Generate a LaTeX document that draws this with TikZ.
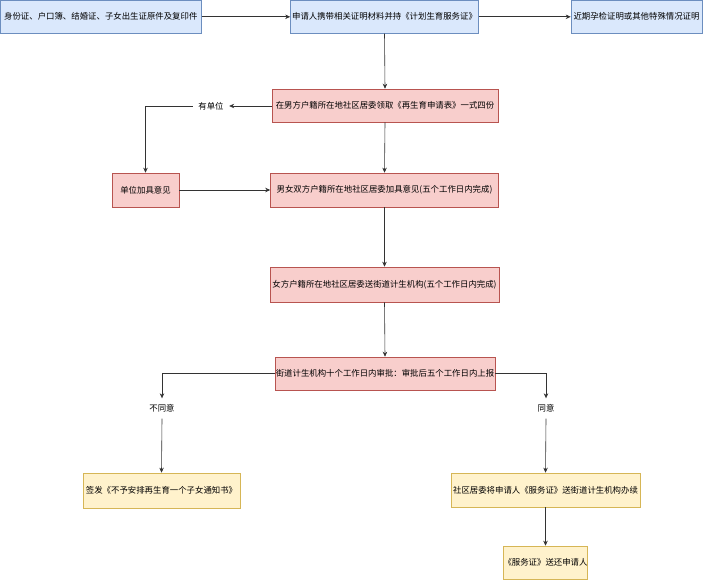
\documentclass[tikz,border=0pt]{standalone}
\usepackage{fontspec}
\newfontfamily\cjk{Noto Sans CJK SC}
\usetikzlibrary{arrows.meta}
\definecolor{bfill}{HTML}{DAE8FC}\definecolor{bdraw}{HTML}{6C8EBF}
\definecolor{rfill}{HTML}{F8CECC}\definecolor{rdraw}{HTML}{B85450}
\definecolor{yfill}{HTML}{FFF2CC}\definecolor{ydraw}{HTML}{D6B656}
\definecolor{lnc}{HTML}{333333}
\tikzset{
  boxbase/.style={rectangle, inner sep=0pt, minimum height=33pt, font=\cjk\fontsize{8.4}{10}\selectfont, line width=0.6pt},
  bluebox/.style={boxbase, fill=bfill, draw=bdraw},
  redbox/.style={boxbase, fill=rfill, draw=rdraw},
  yelbox/.style={boxbase, fill=yfill, draw=ydraw},
  lab/.style={inner sep=0pt, font=\cjk\fontsize{8.4}{10}\selectfont},
  conn/.style={draw=lnc, line width=0.6pt},
  arr/.style={conn, -{Stealth[length=5pt,width=4.5pt]}}
}
\begin{document}
\begin{tikzpicture}[x=1pt,y=-1pt]
\useasboundingbox (0,0) rectangle (703,580);
\node[bluebox, minimum width=201pt] (b1) at (100.8,16.8) {身份证、户口簿、结婚证、子女出生证原件及复印件};
\node[bluebox, minimum width=188pt] (b2) at (384.5,16.8) {申请人携带相关证明材料并持《计划生育服务证》};
\node[bluebox, minimum width=131pt] (b3) at (636.5,16.8) {近期孕检证明或其他特殊情况证明};
\node[redbox, minimum width=226pt] (b4) at (385,105.5) {在男方户籍所在地社区居委领取《再生育申请表》一式四份};
\node[redbox, minimum width=67pt, minimum height=34pt] (b5) at (145.5,190) {单位加具意见};
\node[redbox, minimum width=228pt, minimum height=34pt] (b6) at (384.5,190) {男女双方户籍所在地社区居委加具意见(五个工作日内完成)};
\node[redbox, minimum width=229pt, minimum height=35pt] (b7) at (384.5,284.5) {女方户籍所在地社区居委送街道计生机构(五个工作日内完成)};
\node[redbox, minimum width=220pt] (b8) at (385,373.5) {街道计生机构十个工作日内审批：审批后五个工作日内上报};
\node[yelbox, minimum width=157pt, minimum height=35pt] (b9) at (161.5,490.5) {签发《不予安排再生育一个子女通知书》};
\node[yelbox, minimum width=189pt, minimum height=34pt] (b10) at (545.5,490) {社区居委将申请人《服务证》送街道计生机构办续};
\node[yelbox, minimum width=84pt] (b11) at (545.5,562.5) {《服务证》送还申请人};
\node[lab, minimum width=36pt, minimum height=14pt] (l1) at (211,106) {有单位};
\node[lab, minimum width=30pt, minimum height=20pt] (l2) at (162,408.5) {不同意};
\node[lab, minimum width=30pt, minimum height=20pt] (l3) at (546,408.5) {同意};
\coordinate (c1) at (145.5,106);
\coordinate (c2) at (162,373.5);
\coordinate (c3) at (546,373.5);
\draw[arr] (b1.east) -- (b2.west);
\draw[arr] (b2.east) -- (b3.west);
\draw[arr] (b2.south) -- (b4.north);
\draw[arr] (b4.west|-l1.east) -- (l1.east);
\draw[arr] (l1.west) -- (c1) -- (b5.north);
\draw[arr] (b5.east) -- (b6.west);
\draw[arr] (b4.south) -- (b6.north);
\draw[arr] (b6.south) -- (b7.north);
\draw[arr] (b7.south) -- (b8.north);
\draw[arr] (b8.west) -- (c2) -- (l2.north);
\draw[arr] (l2.south) -- (b9.north);
\draw[arr] (b8.east) -- (c3) -- (l3.north);
\draw[arr] (l3.south) -- (b10.north);
\draw[arr] (b10.south) -- (b11.north);
\end{tikzpicture}
\end{document}
